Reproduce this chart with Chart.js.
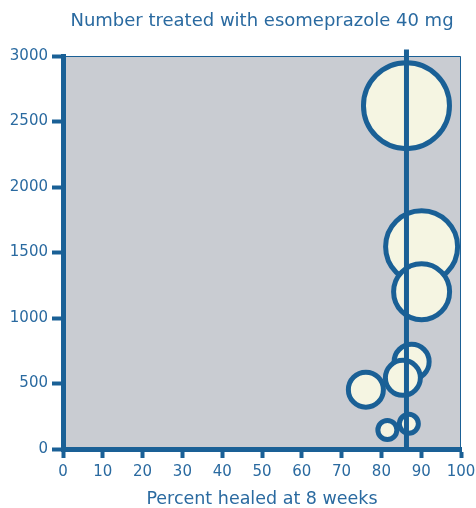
<!DOCTYPE html>
<html>
<head>
<meta charset="utf-8">
<script src="https://cdn.jsdelivr.net/npm/chart.js@4/dist/chart.umd.min.js"></script>
<style>
  html, body { margin: 0; padding: 0; background: #ffffff; }
  #wrap { width: 476px; height: 508px; position: relative; }
</style>
</head>
<body>
<div id="wrap"><canvas id="c" width="476" height="508"></canvas></div>
<script>
// ---- data ----
const percentHealed = [86.3, 90.1, 90.1, 87.6, 85.4, 76.1, 86.9, 81.5];
const numberTreated = [2621, 1544, 1200, 666, 543, 453, 192, 145];
const bubbleRadius  = [43, 36, 28, 17.5, 17.5, 17.5, 9.5, 9.5];
const refLineX = [86.3, 86.3];
const refLineY = [0, 3050];
const xTickValues = [0, 10, 20, 30, 40, 50, 60, 70, 80, 90, 100];
const yTickValues = [0, 500, 1000, 1500, 2000, 2500, 3000];
const xTitle = 'Percent healed at 8 weeks';
const topTitle = 'Number treated with esomeprazole 40 mg';

const BLUE = '#1a6096';
const TEXT = '#2a6aa0';
const FONT = "'DejaVu Sans', sans-serif";

const bubbles = percentHealed.map((x, i) => ({ x: x, y: numberTreated[i], r: bubbleRadius[i] }));
const refLine = refLineX.map((x, i) => ({ x: x, y: refLineY[i] }));

const plotBg = {
  id: 'plotBg',
  beforeDraw(chart) {
    const { ctx, chartArea: a } = chart;
    ctx.save();
    ctx.fillStyle = '#c9ccd2';
    ctx.fillRect(a.left, a.top, a.right - a.left, a.bottom - a.top);
    ctx.strokeStyle = BLUE;
    ctx.lineWidth = 1;
    ctx.beginPath();
    ctx.moveTo(a.left, a.top + 0.5);
    ctx.lineTo(a.right - 0.5, a.top + 0.5);
    ctx.lineTo(a.right - 0.5, a.bottom);
    ctx.stroke();
    ctx.restore();
  }
};

new Chart(document.getElementById('c'), {
  type: 'bubble',
  data: {
    datasets: [
      {
        type: 'line',
        data: refLine,
        borderColor: BLUE,
        borderWidth: 5,
        pointRadius: 0,
        fill: false,
        clip: false,
        order: 0
      },
      {
        type: 'bubble',
        data: bubbles,
        backgroundColor: '#f5f5e2',
        borderColor: BLUE,
        borderWidth: 5,
        clip: false,
        order: 1
      }
    ]
  },
  options: {
    responsive: false,
    animation: false,
    events: [],
    layout: { autoPadding: false, padding: { left: 0, right: 15, top: 0, bottom: 0 } },
    plugins: { legend: { display: false }, tooltip: { enabled: false }, title: { display: false } },
    scales: {
      x: {
        type: 'linear',
        position: 'bottom',
        min: 0, max: 100,
        afterBuildTicks: s => { s.ticks = xTickValues.map(v => ({ value: v })); },
        afterFit: s => { s.height = 59; s.paddingLeft = 0; s.paddingRight = 0; },
        grid: { display: true, drawOnChartArea: false, drawTicks: true, tickLength: 9, tickWidth: 4, tickColor: BLUE },
        border: { display: true, color: BLUE, width: 5 },
        ticks: { color: TEXT, font: { family: FONT, size: 15 }, padding: 5, maxRotation: 0, autoSkip: false, callback: v => String(v) },
        title: { display: true, text: xTitle, color: TEXT, font: { family: FONT, size: 17.5, lineHeight: 1.0 }, padding: { top: 0, bottom: 0 } }
      },
      x2: {
        type: 'linear',
        position: 'top',
        min: 0, max: 100,
        afterFit: s => { s.height = 56; s.paddingLeft = 0; s.paddingRight = 0; },
        grid: { display: false },
        border: { display: false },
        ticks: { display: false },
        title: { display: true, text: topTitle, color: TEXT, font: { family: FONT, size: 18, lineHeight: 1.0 }, padding: { top: 12, bottom: 0 } }
      },
      y: {
        type: 'linear',
        position: 'left',
        min: 0, max: 3000,
        afterBuildTicks: s => { s.ticks = yTickValues.map(v => ({ value: v })); },
        afterFit: s => { s.width = 63; s.paddingTop = 0; s.paddingBottom = 0; },
        grid: { display: true, drawOnChartArea: false, drawTicks: true, tickLength: 11, tickWidth: 4, tickColor: BLUE },
        border: { display: true, color: BLUE, width: 5 },
        ticks: { color: TEXT, font: { family: FONT, size: 15 }, padding: 4, autoSkip: false, callback: v => String(v) }
      }
    }
  },
  plugins: [plotBg]
});
</script>
</body>
</html>
